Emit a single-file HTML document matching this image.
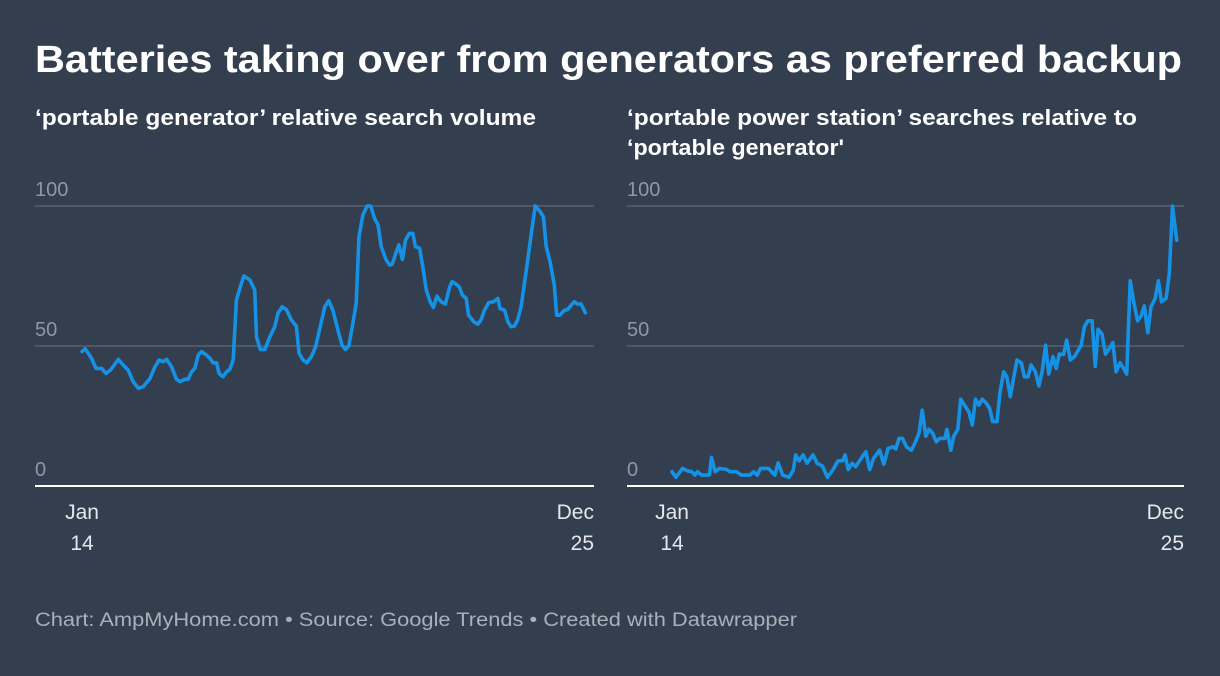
<!DOCTYPE html>
<html><head><meta charset="utf-8"><style>
html,body{margin:0;padding:0;background:#333e4e;}
svg{display:block;font-family:"Liberation Sans",sans-serif;}
</style></head><body>
<svg id="c" width="1220" height="676" viewBox="0 0 1220 676">
<rect width="1220" height="676" fill="#333e4e"/>
<text x="35" y="72" fill="#fff" font-size="38" font-weight="bold" textLength="1147" lengthAdjust="spacingAndGlyphs">Batteries taking over from generators as preferred backup</text>
<text x="35" y="125" fill="#fff" font-size="22" font-weight="bold" textLength="501" lengthAdjust="spacingAndGlyphs">‘portable generator’ relative search volume</text>
<text x="627" y="125" fill="#fff" font-size="22" font-weight="bold" textLength="510" lengthAdjust="spacingAndGlyphs">‘portable power station’ searches relative to</text>
<text x="627" y="155" fill="#fff" font-size="22" font-weight="bold" textLength="217" lengthAdjust="spacingAndGlyphs">‘portable generator'</text>
<text x="35" y="626" fill="#a9b0b9" font-size="19" textLength="762" lengthAdjust="spacingAndGlyphs">Chart: AmpMyHome.com • Source: Google Trends • Created with Datawrapper</text>
<g id="left"></g>
<g id="right"></g>
</svg>
<script>
const yTicks = [0, 50, 100];
const xTickLabels = [["Jan","14"],["Dec","25"]];
const xTickMonths = [0, 143];
const genMonths = [0,0.9,2.7,4.0,5.6,6.8,8.1,10.3,11.7,13.1,14.5,16.0,17.4,19.3,20.7,21.9,23.0,24.0,25.4,26.8,27.8,29.2,30.1,31.1,32.0,33.0,33.9,35.3,36.3,37.2,38.2,38.9,40.0,41.0,41.9,42.9,43.8,44.8,45.9,47.6,49.0,49.5,50.6,51.9,53.3,54.7,55.6,56.8,58.0,59.4,60.8,61.6,62.7,63.8,65.1,66.3,67.4,68.9,70.0,71.2,72.6,73.8,74.7,75.7,76.7,77.8,78.6,79.7,80.9,81.9,83.0,84.0,84.9,86.3,87.3,88.0,89.2,89.9,90.9,91.8,92.9,93.9,94.6,95.8,96.7,97.7,98.8,99.7,100.7,101.9,103.1,104.3,105.0,106.2,107.1,107.9,109.0,109.7,111.1,112.3,113.2,114.2,115.4,116.7,118.0,118.6,119.9,120.8,121.7,122.7,123.6,124.6,125.8,127.1,128.6,129.8,130.9,131.7,132.8,134.0,134.7,135.6,136.9,137.8,138.8,139.7,140.6,141.6,142.8];
const genValues = [48,49,45.6,42,42,40.2,41.4,45.2,43.2,41.4,37.3,34.9,35.5,38.4,42.6,45,44.4,45.2,42.6,38.1,37.3,38.1,38.1,40.8,42,46.8,48,46.8,45.6,44,44,40.2,39,40.8,41.6,45,66.4,70.6,75,73.6,70,53.3,48.8,48.8,53.3,56.9,61.7,64,63,59.3,57.1,47.4,45,44,46.2,49.8,55.7,64,66.2,62.8,55.7,50.3,48.8,50,56.9,65.2,89,96.8,100,100,95.6,93.2,85.5,80.7,78.9,79.2,83.7,86.1,80.9,87.8,90.2,90.2,85.5,84.9,78.3,70,65.8,63.8,67.8,65.8,65,71,73,72,71,68.2,67,61,58.7,57.8,59.3,62.8,65.5,65.8,67,63.4,62.8,58.7,56.9,57.1,59.3,64,74.7,86.7,100,98.3,96.2,85.5,80.1,71.8,61,61,62.8,63,64.6,65.8,65,65,61.9];
const ppsMonths = [0,1.1,3.0,4.2,5.6,6.5,7.2,8.4,10.6,11.2,12.2,13.4,15.5,16.4,18.3,19.7,22.1,23.2,24.2,25.1,27.3,29.2,30.1,31.4,33.2,34.4,35.1,36.1,37.2,38.3,40.0,41.2,42.7,44.1,45.7,47.1,48.4,49.1,50.0,51.1,52.1,53.7,55.0,56.1,57.2,58.9,60.1,61.3,62.7,63.5,64.4,65.4,66.5,67.9,68.9,70.1,71.0,72.0,72.9,73.9,75.0,75.9,77.4,78.0,79.1,79.9,81.1,81.9,83.0,84.2,85.2,86.1,87.1,88.0,89.2,90.1,91.0,92.2,93.1,94.1,95.0,96.0,96.9,97.9,99.1,100.0,101.0,101.9,103.1,104.1,105.0,106.0,106.9,108.1,109.0,109.9,111.1,112.0,113.0,114.2,116.1,117.0,118.0,119.2,120.1,120.9,122.0,123.0,123.9,125.1,126.0,127.1,128.1,129.0,130.0,130.9,132.1,133.1,134.0,135.0,135.9,137.1,138.0,138.9,140.2,141.1,142.0,143.2];
const ppsValues = [5.1,3.1,6.3,5.5,5.1,3.9,5.1,3.9,3.9,10.2,5.1,6.3,5.9,5.1,5.1,3.9,3.9,5.1,3.9,6.3,6.3,3.9,8.3,3.9,3.1,5.5,11.1,9,11.1,8.1,11.1,8.1,7.1,3.1,5.9,9,9,11.1,5.9,8.1,6.9,9.9,12.3,5.9,9.9,12.8,7.8,13.4,14,13.2,17,17,14,12.8,15.2,19,27.1,17.8,20.2,19,15.8,17,17,20.2,12.8,17.6,20.2,31,28.9,26.5,21.8,31,28.9,31,29.5,27.7,23,23,33.7,40.8,39,31.9,38.4,45,44,39,39,43.2,40.8,35.7,40.8,50.3,40,46.2,42,47.1,47,52.1,45,46.2,50.3,56.9,59,59,42.8,56,54.3,47.1,48.8,51.2,40.8,44,42,40,73.3,66.4,59,60.7,64.3,54.7,64,67,73.3,65.8,67,75.9,100,87.8];

const NS = "http://www.w3.org/2000/svg";
const Y0 = 486, Y100 = 206;
function yScale(v){ return Y0 + (Y100 - Y0) * v / 100; }
function mk(tag, attrs, parent){ const e = document.createElementNS(NS, tag); for (const k in attrs) e.setAttribute(k, attrs[k]); parent.appendChild(e); return e; }

function drawPanel(g, left, right, x0, x1, months, values, prefix){
  const xScale = m => x0 + (x1 - x0) * m / 143;
  yTicks.forEach(t => {
    if (t > 0) {
      const l = mk('line', {x1:left, x2:right, y1:yScale(t), y2:yScale(t), stroke:'#4d5868', 'stroke-width':2}, g);
      
      
    }
    const tx = mk('text', {x:left, y:yScale(t) - 10, fill:'#8f97a3', 'font-size':20}, g);
    tx.textContent = t;
    
    
  });
  const pts = months.map((m, i) => xScale(m).toFixed(1) + ',' + yScale(values[i]).toFixed(1)).join(' ');
  const pl = mk('polyline', {points:pts, fill:'none', stroke:'#1592e6', 'stroke-width':3.6, 'stroke-linejoin':'round', 'stroke-linecap':'round'}, g);
  
  
  const base = mk('line', {x1:left, x2:right, y1:Y0, y2:Y0, stroke:'#ffffff', 'stroke-width':2}, g);
  
  
  xTickMonths.forEach((m, i) => {
    const anchor = i === 0 ? 'middle' : 'end';
    const xx = i === 0 ? xScale(m) : right;
    const t1 = mk('text', {x:xx, y:519, fill:'#e4e7eb', 'font-size':21, 'text-anchor':anchor}, g);
    t1.textContent = xTickLabels[i][0];
    
    
    const t2 = mk('text', {x:xx, y:550, fill:'#e4e7eb', 'font-size':21, 'text-anchor':anchor}, g);
    t2.textContent = xTickLabels[i][1];
    
    
  });
}
drawPanel(document.getElementById('left'), 35, 594, 82, 586, genMonths, genValues, 'left');
drawPanel(document.getElementById('right'), 627, 1184, 672, 1176, ppsMonths, ppsValues, 'right');
</script>
</body></html>
